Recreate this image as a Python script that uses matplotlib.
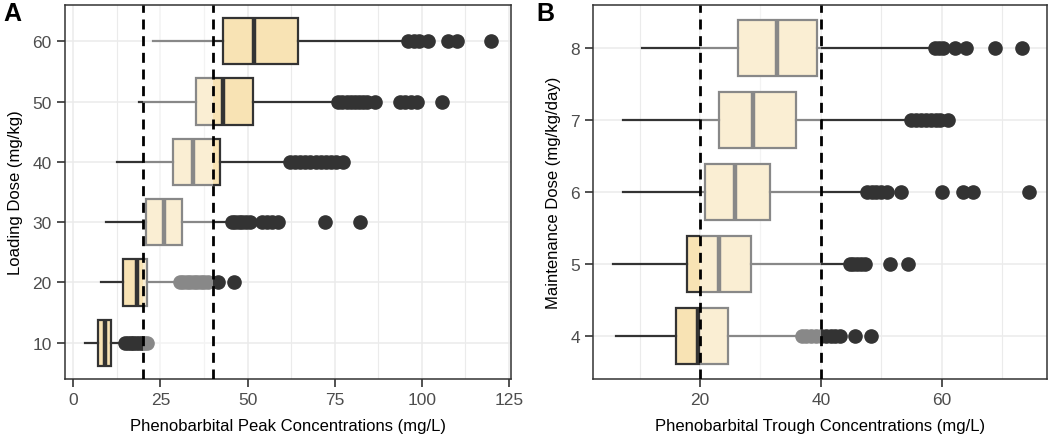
import matplotlib.pyplot as plt
from matplotlib.ticker import MultipleLocator

plt.rcParams['font.family'] = ['Liberation Sans', 'DejaVu Sans']

# Panel A: loading dose vs peak concentrations
load_doses = [10, 20, 30, 40, 50, 60]
peak_whislo = [3.4, 7.9, 9.4, 12.4, 18.7, 22.8]
peak_q1 = [7.1, 14.3, 20.9, 28.5, 35.2, 43.0]
peak_med = [9.1, 18.2, 26.0, 34.4, 43.0, 51.8]
peak_q3 = [10.8, 21.2, 31.2, 42.1, 51.6, 64.4]
peak_whishi = [13.9, 30.1, 44.5, 61.2, 74.6, 94.6]
peak_fliers = [
    [14.8, 15.6, 16.4, 17.2, 18.0, 18.8, 19.6, 20.4, 21.2],
    [30.6, 31.6, 32.6, 33.6, 34.6, 35.6, 36.6, 37.6, 38.7, 41.6, 46.1],
    [45.4, 46.4, 47.4, 48.4, 49.4, 50.7, 54.0, 55.5, 57.0, 58.8, 72.2, 82.2],
    [62.2, 63.5, 65.0, 66.5, 68.0, 69.5, 71.0, 72.5, 74.0, 75.5, 77.5],
    [76.0, 77.2, 78.4, 79.6, 80.8, 82.0, 83.2, 84.4, 86.5, 93.7, 95.3, 96.9, 98.5, 105.9],
    [96.1, 97.7, 99.3, 101.8, 107.6, 110.0, 119.8],
]

# Panel B: maintenance dose vs trough concentrations
maint_doses = [4, 5, 6, 7, 8]
trough_whislo = [6.1, 5.6, 7.3, 7.3, 10.3]
trough_q1 = [16.0, 17.9, 20.8, 23.2, 26.2]
trough_med = [19.6, 23.2, 25.7, 28.8, 32.7]
trough_q3 = [24.6, 28.4, 31.6, 35.9, 39.3]
trough_whishi = [36.6, 44.3, 47.0, 54.5, 58.4]
trough_fliers = [
    [36.8, 37.6, 38.4, 39.2, 40.0, 40.8, 41.6, 42.4, 43.2, 45.7, 48.3],
    [44.8, 45.4, 46.0, 46.6, 47.3, 51.5, 54.5],
    [47.6, 48.4, 49.2, 50.0, 50.9, 53.3, 60.0, 63.5, 65.2, 74.4],
    [55.0, 55.8, 56.6, 57.4, 58.2, 59.0, 59.8, 61.1],
    [58.9, 59.6, 60.3, 62.2, 64.0, 68.8, 73.3],
]

thera_low, thera_high = 20, 40

dark = '#333333'
fill = '#F8E3B4'


def make_stats(lo, q1, med, q3, hi, fl):
    return [dict(whislo=a, q1=b, med=c, q3=d, whishi=e, fliers=f)
            for a, b, c, d, e, f in zip(lo, q1, med, q3, hi, fl)]


def draw_panel(ax, stats, positions, width, xlim, ylim, xmajor, xminor, xlabel, ylabel):
    ax.bxp(stats, positions=positions, widths=width, orientation='horizontal',
           patch_artist=True, showcaps=False, zorder=2,
           boxprops=dict(facecolor=fill, edgecolor=dark, linewidth=1.6),
           whiskerprops=dict(color=dark, linewidth=1.6),
           medianprops=dict(color=dark, linewidth=3.2, solid_capstyle='butt'),
           flierprops=dict(marker='o', markerfacecolor=dark, markeredgecolor=dark,
                           markersize=9.5))
    # light wash over the therapeutic window
    ax.axvspan(thera_low, thera_high, color='white', alpha=0.42, lw=0, zorder=2.3)
    for v in (thera_low, thera_high):
        ax.axvline(v, color='black', lw=2, ls=(0, (3.6, 2.4)), zorder=3)

    ax.set_xlim(*xlim)
    ax.set_ylim(*ylim)
    ax.xaxis.set_major_locator(MultipleLocator(xmajor))
    ax.xaxis.set_minor_locator(MultipleLocator(xminor))
    ax.set_yticks(positions)
    ax.set_yticklabels([str(p) for p in positions])
    ax.set_axisbelow(True)
    ax.grid(which='major', color='#EBEBEB', lw=1.1)
    ax.grid(which='minor', axis='x', color='#EBEBEB', lw=0.8)
    ax.tick_params(which='major', length=5.5, width=1.2, color=dark,
                   labelsize=12.5, labelcolor='#4D4D4D', pad=4)
    ax.tick_params(which='minor', length=0)
    for s in ax.spines.values():
        s.set_color(dark)
        s.set_linewidth(1.1)
    ax.set_xlabel(xlabel, fontsize=12, labelpad=8)
    ax.set_ylabel(ylabel, fontsize=12, labelpad=7)


fig = plt.figure(figsize=(10.5, 4.39), dpi=100)
axA = fig.add_axes([0.0619, 0.1344, 0.4245, 0.8519])
axB = fig.add_axes([0.565, 0.1344, 0.4318, 0.8519])

draw_panel(axA, make_stats(peak_whislo, peak_q1, peak_med, peak_q3, peak_whishi, peak_fliers),
           load_doses, 7.7, (-2.4, 125.5), (4.0, 66.0), 25, 12.5,
           'Phenobarbital Peak Concentrations (mg/L)', 'Loading Dose (mg/kg)')
draw_panel(axB, make_stats(trough_whislo, trough_q1, trough_med, trough_q3, trough_whishi, trough_fliers),
           maint_doses, 0.77, (2.3, 77.4), (3.4, 8.6), 20, 10,
           'Phenobarbital Trough Concentrations (mg/L)', 'Maintenance Dose (mg/kg/day)')

fig.text(0.003, 0.995, 'A', fontsize=18, fontweight='bold', va='top', ha='left')
fig.text(0.511, 0.995, 'B', fontsize=18, fontweight='bold', va='top', ha='left')

fig.savefig('out.png', dpi=100)
